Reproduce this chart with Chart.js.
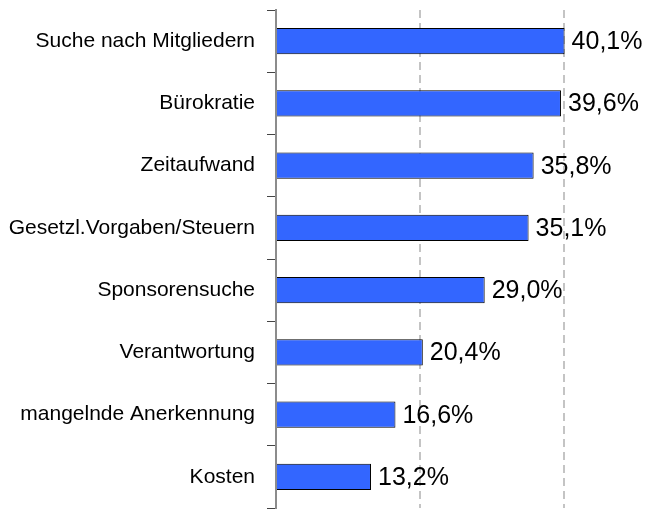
<!DOCTYPE html>
<html>
<head>
<meta charset="utf-8">
<script src="https://cdn.jsdelivr.net/npm/chart.js@4"></script>
<style>
    html, body { margin: 0; padding: 0; background: #fff; }
    #wrap { width: 661px; height: 511px; }
</style>
</head>
<body>
<div id="wrap"><canvas id="chart" width="661" height="511"></canvas></div>
<script>
// chart data
const categories = [
    'Suche nach Mitgliedern',
    'Bürokratie',
    'Zeitaufwand',
    'Gesetzl.Vorgaben/Steuern',
    'Sponsorensuche',
    'Verantwortung',
    'mangelnde Anerkennung',
    'Kosten'
];
const values = [40.1, 39.6, 35.8, 35.1, 29.0, 20.4, 16.6, 13.2];
const gridTicks = [0, 20, 40];

// Format as german percent, e.g. 40,1%
function formatPercent(v) {
    return v.toFixed(1).replace('.', ',') + '%';
}

// Draws the value next to each bar end
const valueLabels = {
    id: 'valueLabels',
    afterDatasetsDraw(chart) {
        const ctx = chart.ctx;
        const meta = chart.getDatasetMeta(0);
        ctx.save();
        ctx.font = '25px "Liberation Sans", Arial, sans-serif';
        ctx.fillStyle = '#000';
        ctx.textAlign = 'left';
        ctx.textBaseline = 'middle';
        meta.data.forEach((bar, i) => {
            ctx.fillText(formatPercent(values[i]), bar.x + 7, bar.y + 1);
        });
        ctx.restore();
    }
};

function createChart() {
    const ctx = document.getElementById('chart').getContext('2d');
    return new Chart(ctx, {
        type: 'bar',
        data: {
            labels: categories,
            datasets: [{
                data: values,
                backgroundColor: '#3366ff',
                borderColor: '#000',
                borderWidth: 1,
                barPercentage: 0.42,
                categoryPercentage: 1
            }]
        },
        options: {
            indexAxis: 'y',
            responsive: false,
            animation: false,
            layout: {
                padding: { top: 10, bottom: 3, left: 0, right: 0 }
            },
            plugins: {
                legend: { display: false },
                tooltip: { enabled: false }
            },
            scales: {
                x: {
                    min: 0,
                    max: 53.5,
                    afterBuildTicks: function (scale) {
                        scale.ticks = gridTicks.map(v => ({ value: v }));
                    },
                    afterFit: function (scale) {
                        scale.height = 0;
                        scale.paddingLeft = 0;
                        scale.paddingRight = 0;
                    },
                    ticks: { display: false },
                    grid: {
                        drawTicks: false,
                        color: function (c) {
                            return c.tick && c.tick.value === 0 ? 'rgba(0,0,0,0)' : '#c4c4c4';
                        },
                        lineWidth: 2
                    },
                    border: { display: false, dash: [8, 5] }
                },
                y: {
                    afterFit: function (scale) {
                        scale.width = 276;
                        scale.paddingTop = 0;
                        scale.paddingBottom = 0;
                    },
                    ticks: {
                        color: '#000',
                        padding: 12,
                        font: { family: '"Liberation Sans", Arial, sans-serif', size: 21 }
                    },
                    border: { display: true, color: '#8c8c8c', width: 2 },
                    grid: {
                        drawOnChartArea: false,
                        drawTicks: true,
                        tickLength: 9,
                        color: '#444',
                        offset: true
                    }
                }
            }
        },
        plugins: [valueLabels]
    });
}

createChart();
</script>
</body>
</html>
